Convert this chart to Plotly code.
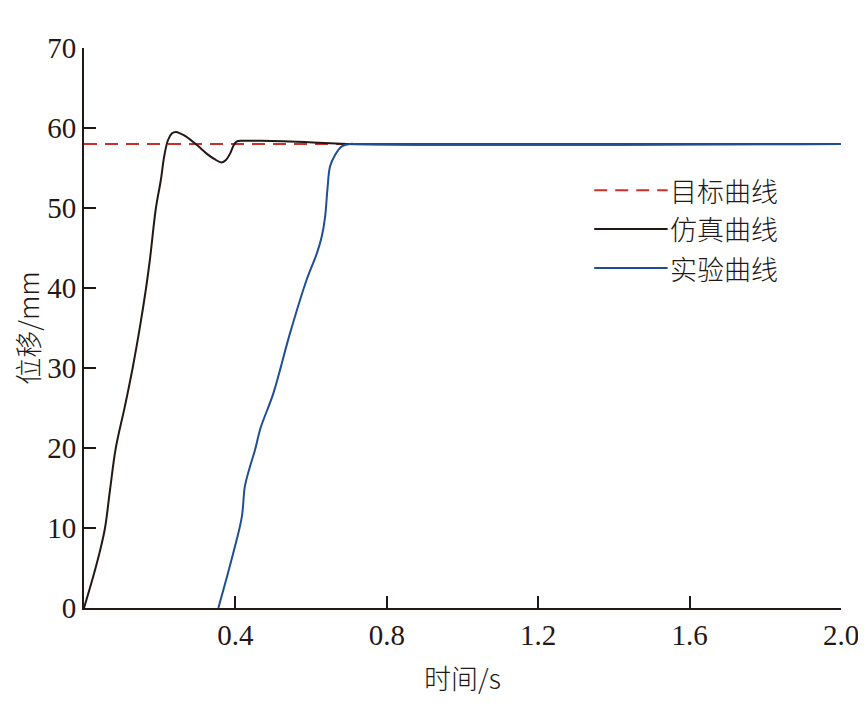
import plotly.graph_objects as go

# Target curve
target_t = [0.0, 2.0]
target_y = [58.0, 58.0]

# Simulation curve (仿真曲线)
sim_t = [0.0, 0.0247, 0.042, 0.0555, 0.0687, 0.084, 0.108, 0.1285, 0.148, 0.164,
         0.174, 0.19, 0.203, 0.212, 0.222, 0.232, 0.243,
         0.255, 0.271, 0.3, 0.324, 0.345, 0.364, 0.375, 0.386, 0.395, 0.403, 0.42, 0.469,
         0.605, 0.694, 2.0]
sim_y = [0.0, 4.0, 7.1, 10.0, 14.75, 20.0, 25.2, 30.0, 35.2, 40.0,
         43.5, 50.0, 53.5, 56.5, 58.5, 59.3, 59.5,
         59.3, 58.9, 57.8, 56.8, 56.1, 55.7, 56.0, 56.8, 57.8, 58.3, 58.4, 58.4,
         58.2, 58.0, 58.0]

# Experiment curve (实验曲线)
exp_t = [0.355, 0.394, 0.417, 0.425, 0.4386, 0.4518, 0.4665, 0.5, 0.544, 0.588, 0.615, 0.628,
         0.637, 0.643, 0.65, 0.663, 0.681, 0.703, 0.72, 2.0]
exp_y = [0.0, 6.8, 11.4, 15.2, 17.7, 19.75, 22.5, 26.8, 34.3, 41.0, 44.3, 46.4,
         48.9, 52.25, 55.2, 56.6, 57.7, 58.0, 58.0, 58.0]

x_ticks = [0.4, 0.8, 1.2, 1.6, 2.0]
x_tick_text = ["0.4", "0.8", "1.2", "1.6", "2.0"]
y_ticks = [0, 10, 20, 30, 40, 50, 60, 70]

legend_names = ["目标曲线", "仿真曲线", "实验曲线"]

RED = "#C8302C"
BLACK = "#231815"
BLUE = "#1F4E96"
serif = "Liberation Serif, Times New Roman, serif"
cjk = "Noto Sans CJK SC, Liberation Serif, serif"

fig = go.Figure()
fig.add_trace(go.Scatter(x=target_t, y=target_y, mode="lines",
                         line=dict(color=RED, width=2, dash="13px,8px"), name=legend_names[0]))
fig.add_trace(go.Scatter(x=sim_t, y=sim_y, mode="lines", line_shape="spline",
                         line=dict(color=BLACK, width=2, smoothing=1.0), name=legend_names[1]))
fig.add_trace(go.Scatter(x=exp_t, y=exp_y, mode="lines", line_shape="spline",
                         line=dict(color=BLUE, width=2, smoothing=1.0), name=legend_names[2]))

# manual legend
leg_y = [0.746, 0.677, 0.607]
leg_styles = [dict(color=RED, width=2, dash="13px,8px"), dict(color=BLACK, width=2), dict(color=BLUE, width=2)]
for name, yy, st in zip(legend_names, leg_y, leg_styles):
    fig.add_shape(type="line", xref="paper", yref="paper", x0=0.674, x1=0.771, y0=yy, y1=yy, line=st)
    fig.add_annotation(xref="paper", yref="paper", x=0.772, y=yy, text=name, showarrow=False,
                       xanchor="left", yanchor="middle",
                       font=dict(family=cjk, size=27, color=BLACK, weight=300))

fig.update_layout(
    width=866, height=726,
    margin=dict(l=76, r=33, t=40, b=126),
    paper_bgcolor="white", plot_bgcolor="white",
    showlegend=False,
    font=dict(family=serif, size=29, color=BLACK),
)
fig.update_xaxes(range=[0, 2.0], tickvals=x_ticks, ticktext=x_tick_text,
                 ticks="inside", ticklen=12, tickwidth=2, tickcolor=BLACK,
                 showline=True, linecolor=BLACK, linewidth=2, showgrid=False, zeroline=False,
                 tickfont=dict(family=serif, size=29),
                 title=dict(text="时间/s", font=dict(family=cjk, size=27, weight=300), standoff=20))
fig.update_yaxes(range=[0, 70], tickvals=y_ticks,
                 ticks="inside", ticklen=12, tickwidth=2, tickcolor=BLACK,
                 showline=True, linecolor=BLACK, linewidth=2, showgrid=False, zeroline=False,
                 tickfont=dict(family=serif, size=29),
                 title=dict(text="位移/mm", font=dict(family=cjk, size=27, weight=300), standoff=8))

fig.write_html("out.html")
